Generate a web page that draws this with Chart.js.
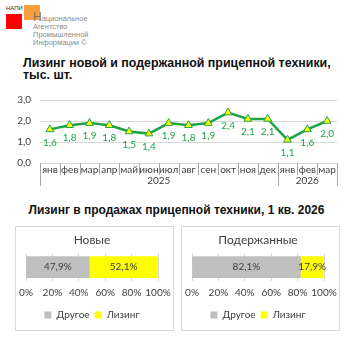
<!DOCTYPE html>
<html>
<head>
<meta charset="utf-8">
<script src="https://cdn.jsdelivr.net/npm/chart.js@4.4.1/dist/chart.umd.min.js"></script>
<style>
  body { margin: 0; width: 353px; height: 353px; background: #fff; position: relative; overflow: hidden; font-family: "Liberation Sans", Arial, sans-serif; }
  .abs { position: absolute; }
  /* logo */
  #napi { left: 6px; top: 5px; font-size: 6px; color: #333; }
  #sqRed { left: 6px; top: 14px; width: 16px; height: 15px; background: #ff0000; }
  #sqOrange { left: 24px; top: 5px; width: 16px; height: 15px; background: #f7a13e; }
  #agency { left: 33px; top: 13px; font-size: 7.5px; line-height: 8px; color: #8a8a8a; font-family: "Liberation Sans Narrow", "Liberation Sans", sans-serif; }
  #agency b { font-weight: normal; font-size: 12px; line-height: 8px; color: #6f6f6f; }
  .title { font-weight: bold; font-size: 12px; color: #111; }
  #title1 { left: 23px; top: 57px; line-height: 12px; font-size: 12.4px; }
  #title2 { left: 0; width: 353px; top: 203px; text-align: center; }
  .box { border: 1px solid #d9d9d9; }
  #boxNew { left: 15px; top: 226px; width: 157px; height: 103px; }
  #boxUsed { left: 181px; top: 226px; width: 157px; height: 103px; }
</style>
</head>
<body>
<div class="abs" id="napi">НАПИ</div>
<div class="abs" id="sqRed"></div>
<div class="abs" id="sqOrange"></div>
<div class="abs" id="agency"><b>Н</b>ациональное<br>Агентство<br>Промышленной<br>Информации ©</div>

<div class="abs title" id="title1">Лизинг новой и подержанной прицепной техники,<br>тыс. шт.</div>
<div class="abs" style="left:0;top:85px;width:353px;height:107px"><canvas id="lineChart"></canvas></div>

<div class="abs title" id="title2">Лизинг в продажах прицепной техники, 1 кв. 2026</div>
<div class="abs box" id="boxNew"><canvas id="barNew"></canvas></div>
<div class="abs box" id="boxUsed"><canvas id="barUsed"></canvas></div>

<script>
/* data */
const months = ['янв', 'фев', 'мар', 'апр', 'май', 'июн', 'июл', 'авг', 'сен', 'окт', 'ноя', 'дек', 'янв', 'фев', 'мар'];
const years = ['2025', '2026'];
const yearSpans = [12, 3];
const leasingUnits = [1.6, 1.8, 1.9, 1.8, 1.5, 1.4, 1.9, 1.8, 1.9, 2.4, 2.1, 2.1, 1.1, 1.6, 2.0];

const shareGroups = ['Новые', 'Подержанные'];
const otherShare = [47.9, 82.1];
const leasingShare = [52.1, 17.9];

const FONT = 'Lato, "Open Sans", sans-serif';
const TEXT = '#404040';
const GREEN = '#1fa34a';

function fmt(v, d) {
  return v.toFixed(d).replace('.', ',');
}

/* Line chart section */
const monthAxis = {
  id: 'monthAxis',
  afterDraw: function (chart) {
    const ctx = chart.ctx;
    const x = chart.scales.x;
    const bottom = chart.chartArea.bottom;
    const half = (x.getPixelForValue(1) - x.getPixelForValue(0)) / 2;
    ctx.save();
    ctx.strokeStyle = '#a6a6a6';
    ctx.lineWidth = 1;
    let start = 0;
    const yearEdges = [0];
    yearSpans.forEach(function (n) { start += n; yearEdges.push(start); });
    for (let i = 0; i <= months.length; i++) {
      const px = Math.round(x.getPixelForValue(i) - half) + 0.5;
      const len = yearEdges.indexOf(i) >= 0 ? 23 : 12;
      ctx.beginPath();
      ctx.moveTo(px, bottom);
      ctx.lineTo(px, bottom + len);
      ctx.stroke();
    }
    ctx.fillStyle = TEXT;
    ctx.font = '10px ' + FONT;
    ctx.textAlign = 'center';
    ctx.textBaseline = 'middle';
    years.forEach(function (y, k) {
      const a = x.getPixelForValue(yearEdges[k]) - half;
      const b = x.getPixelForValue(yearEdges[k + 1]) - half;
      ctx.fillText(y, (a + b) / 2, bottom + 18);
    });
    // values under points
    ctx.fillStyle = GREEN;
    chart.getDatasetMeta(0).data.forEach(function (pt, i) {
      ctx.fillText(fmt(leasingUnits[i], 1), pt.x, pt.y + 13);
    });
    ctx.restore();
  }
};

new Chart(document.getElementById('lineChart'), {
  type: 'line',
  data: {
    labels: months,
    datasets: [{
      data: leasingUnits,
      borderColor: GREEN,
      borderWidth: 2.5,
      pointStyle: 'triangle',
      pointRadius: 4.5,
      pointBackgroundColor: '#ffff00',
      pointBorderColor: GREEN,
      pointBorderWidth: 1,
      tension: 0
    }]
  },
  options: {
    responsive: true,
    maintainAspectRatio: false,
    animation: false,
    layout: { padding: { top: 6, right: 16, left: 0, bottom: 0 } },
    plugins: { legend: { display: false }, tooltip: { enabled: false } },
    scales: {
      x: {
        offset: true,
        grid: { display: false, drawTicks: false },
        border: { display: true, color: '#d9d9d9' },
        ticks: { color: TEXT, font: { family: FONT, size: 10 }, padding: 1, maxRotation: 0, autoSkip: false },
        afterFit: function (s) { s.height = 29; }
      },
      y: {
        min: 0,
        max: 3,
        ticks: { stepSize: 1, color: TEXT, font: { family: FONT, size: 10 }, padding: 9, callback: function (v) { return fmt(v, 1); } },
        grid: { color: '#d9d9d9', drawTicks: false },
        border: { display: false },
        afterFit: function (s) { s.width = 40; }
      }
    }
  },
  plugins: [monthAxis]
});

/* Share bars */
const barValues = {
  id: 'barValues',
  afterDatasetsDraw: function (chart) {
    const ctx = chart.ctx;
    ctx.save();
    ctx.fillStyle = TEXT;
    ctx.font = '10px ' + FONT;
    ctx.textAlign = 'center';
    ctx.textBaseline = 'middle';
    chart.data.datasets.forEach(function (ds, k) {
      const el = chart.getDatasetMeta(k).data[0];
      ctx.fillText(fmt(ds.data[0], 1) + '%', (el.x + el.base) / 2, el.y);
    });
    ctx.restore();
  }
};

function shareChart(id, idx) {
  new Chart(document.getElementById(id), {
    type: 'bar',
    data: {
      labels: [shareGroups[idx]],
      datasets: [
        { label: 'Другое', data: [otherShare[idx]], backgroundColor: '#bfbfbf', barThickness: 21 },
        { label: 'Лизинг', data: [leasingShare[idx]], backgroundColor: '#ffff00', barThickness: 21 }
      ]
    },
    options: {
      indexAxis: 'y',
      responsive: true,
      maintainAspectRatio: false,
      animation: false,
      layout: { padding: { left: 10, right: 15, top: 6, bottom: 0 } },
      plugins: {
        title: { display: true, text: shareGroups[idx], color: TEXT, font: { family: FONT, size: 12, weight: 'normal' }, padding: { top: 0, bottom: 6 } },
        legend: {
          position: 'bottom',
          labels: { boxWidth: 7, boxHeight: 7, color: TEXT, font: { family: FONT, size: 10 }, padding: 5 }
        },
        tooltip: { enabled: false }
      },
      scales: {
        x: {
          stacked: true,
          min: 0,
          max: 100,
          ticks: { stepSize: 20, color: TEXT, font: { family: FONT, size: 10 }, padding: 6, maxRotation: 0, autoSkip: false, callback: function (v) { return v + '%'; } },
          grid: { color: '#d9d9d9', drawTicks: false },
          border: { display: false },
          afterFit: function (s) { s.height = 24; s.paddingLeft = 0; s.paddingRight = 0; }
        },
        y: { stacked: true, display: false }
      }
    },
    plugins: [barValues]
  });
}

shareChart('barNew', 0);
shareChart('barUsed', 1);
</script>
</body>
</html>
